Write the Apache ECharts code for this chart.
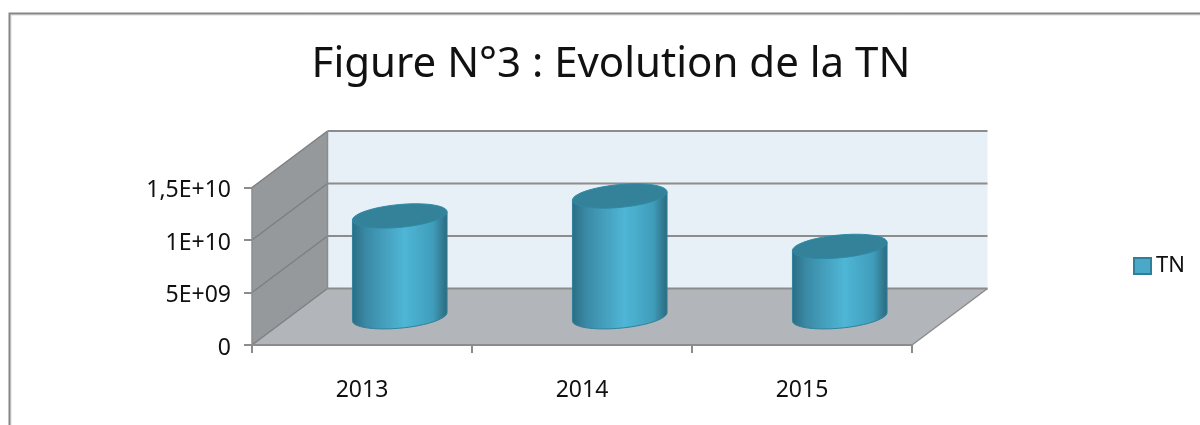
<!DOCTYPE html>
<html>
<head>
<meta charset="utf-8">
<style>
  html, body { margin: 0; padding: 0; background: #fff; }
  #chart { width: 1200px; height: 425px; }
</style>
</head>
<body>
<div id="chart"></div>
<script src="https://cdn.jsdelivr.net/npm/echarts@6/dist/echarts.min.js"></script>
<script>
const titleText = 'Figure N°3 : Evolution de la TN';
const seriesName = 'TN';
const years = ['2013', '2014', '2015'];
const tnValues = [9.6e9, 11.5e9, 6.7e9];
const yTicks = [0, 5e9, 1e10, 1.5e10];
const yTickLabels = ['0', '5E+09', '1E+10', '1,5E+10'];

const fontName = 'Noto Sans';
const lineGrey = '#8c8c8c';
const sideGrey = '#7d8082';
const depthX = 75.5; // décalage de la perspective
const depthY = 56.5;

const chart = echarts.init(document.getElementById('chart'));

function line(x1, y1, x2, y2, width, color) {
    return {
        type: 'line',
        shape: { x1, y1, x2, y2 },
        style: { stroke: color || lineGrey, lineWidth: width || 1.5 },
    };
}

function poly(points, style) {
    return { type: 'polygon', shape: { points }, style };
}

// murs et sol de la boite 3D
function renderWalls(params, api) {
    const left = params.coordSys.x;
    const right = left + params.coordSys.width;
    const y0 = api.coord([0, 0])[1];
    const yTop = api.coord([0, yTicks[yTicks.length - 1]])[1];
    const children = [
        poly([[left + depthX, y0 - depthY], [right + depthX, y0 - depthY], [right + depthX, yTop - depthY], [left + depthX, yTop - depthY]], { fill: '#e8f0f7' }),
        poly([[left, y0], [left + depthX, y0 - depthY], [left + depthX, yTop - depthY], [left, yTop]], { fill: '#95999b' }),
        poly([[left, y0], [right, y0], [right + depthX, y0 - depthY], [left + depthX, y0 - depthY]], { fill: '#b2b6ba' }),
    ];
    yTicks.forEach((tick) => {
        const y = api.coord([0, tick])[1];
        children.push(line(left, y, left + depthX, y - depthY, 1.5, sideGrey));
        children.push(line(left + depthX, y - depthY, right + depthX, y - depthY, 2));
    });
    children.push(line(left + depthX, y0 - depthY, left + depthX, yTop - depthY));
    children.push(line(right, y0, right + depthX, y0 - depthY));
    return { type: 'group', children };
}

function ellipsePoints(cx, cy, a, from, to) {
    const tiltY = a * 0.088;
    const radiusY = a * 0.242;
    const points = [];
    for (let i = 0; i <= 48; i++) {
        const t = from + (to - from) * i / 48;
        points.push([cx + a * Math.cos(t), cy - tiltY * Math.cos(t) + radiusY * Math.sin(t)]);
    }
    return points;
}

function renderCylinder(params, api) {
    const cat = api.value(0);
    const top = api.coord([cat, api.value(1)]);
    const base = api.coord([cat, 0]);
    const a = api.size([1, 0])[0] * 0.215;
    const cx = top[0] + depthX / 2;
    const topY = top[1] - depthY / 2;
    const baseY = base[1] - depthY / 2;
    const tiltY = a * 0.088;
    const body = ellipsePoints(cx, baseY, a, 0, Math.PI);
    body.push([cx - a, topY + tiltY], [cx + a, topY - tiltY]);
    return {
        type: 'group',
        children: [
            poly(body, {
                fill: new echarts.graphic.LinearGradient(0, 0, 1, 0, [
                    { offset: 0, color: '#2b6c83' },
                    { offset: 0.15, color: '#3a8aa6' },
                    { offset: 0.55, color: '#4fb6d6' },
                    { offset: 0.85, color: '#3f9dbb' },
                    { offset: 1, color: '#2c687c' },
                ]),
                stroke: '#2f819c',
                lineWidth: 1,
            }),
            poly(ellipsePoints(cx, topY, a, 0, Math.PI * 2), { fill: '#34819a', stroke: '#2f8aa5', lineWidth: 1 }),
        ],
    };
}

const option = {
    animation: false,
    backgroundColor: '#fff',
    title: {
        text: titleText,
        left: 606,
        top: 39,
        textAlign: 'center',
        textStyle: { fontFamily: fontName, fontSize: 42, fontWeight: 'normal', color: '#111' },
    },
    legend: {
        data: [seriesName],
        left: 1128,
        top: 250,
        icon: 'rect',
        itemWidth: 17,
        itemHeight: 16,
        itemGap: 0,
        textStyle: { fontFamily: fontName, fontSize: 22, color: '#111' },
    },
    grid: { left: 252, right: 288, top: 187.5, bottom: 80 },
    xAxis: {
        type: 'category',
        data: years,
        z: 5,
        axisLine: { lineStyle: { color: lineGrey, width: 2 } },
        axisTick: { show: true, length: 8, lineStyle: { color: lineGrey, width: 2 } },
        axisLabel: { margin: 34, fontFamily: fontName, fontSize: 23, color: '#111' },
    },
    yAxis: {
        type: 'value',
        min: 0,
        max: 1.5e10,
        interval: 5e9,
        z: 5,
        axisLine: { show: true, lineStyle: { color: lineGrey, width: 1.5 } },
        axisTick: { show: true, length: 8, lineStyle: { color: lineGrey, width: 2 } },
        axisLabel: {
            margin: 21,
            fontFamily: fontName,
            fontSize: 23,
            color: '#111',
            formatter: (value, index) => `{t|${yTickLabels[index]}}`,
            rich: { t: { padding: [6, 0, 0, 0], fontFamily: fontName, fontSize: 23, color: '#111' } },
        },
        splitLine: { show: false },
    },
    series: [
        {
            name: 'walls',
            type: 'custom',
            silent: true,
            z: 1,
            data: [[0, 0]],
            encode: { x: 0, y: 1 },
            renderItem: renderWalls,
        },
        {
            name: seriesName,
            type: 'custom',
            z: 3,
            itemStyle: { color: '#4aa9c8', borderColor: '#2f7f9b', borderWidth: 2 },
            data: tnValues.map((v, i) => [i, v]),
            encode: { x: 0, y: 1 },
            renderItem: renderCylinder,
        },
    ],
    graphic: [
        { type: 'rect', z: 0, silent: true, shape: { x: 11, y: 15, width: 1400, height: 600 }, style: { fill: 'none', stroke: '#dcdcdc', lineWidth: 1 } },
        { type: 'rect', z: 0, silent: true, shape: { x: 9.5, y: 13.5, width: 1400, height: 600 }, style: { fill: 'none', stroke: '#868686', lineWidth: 2 } },
    ],
};

chart.setOption(option);
</script>
</body>
</html>
